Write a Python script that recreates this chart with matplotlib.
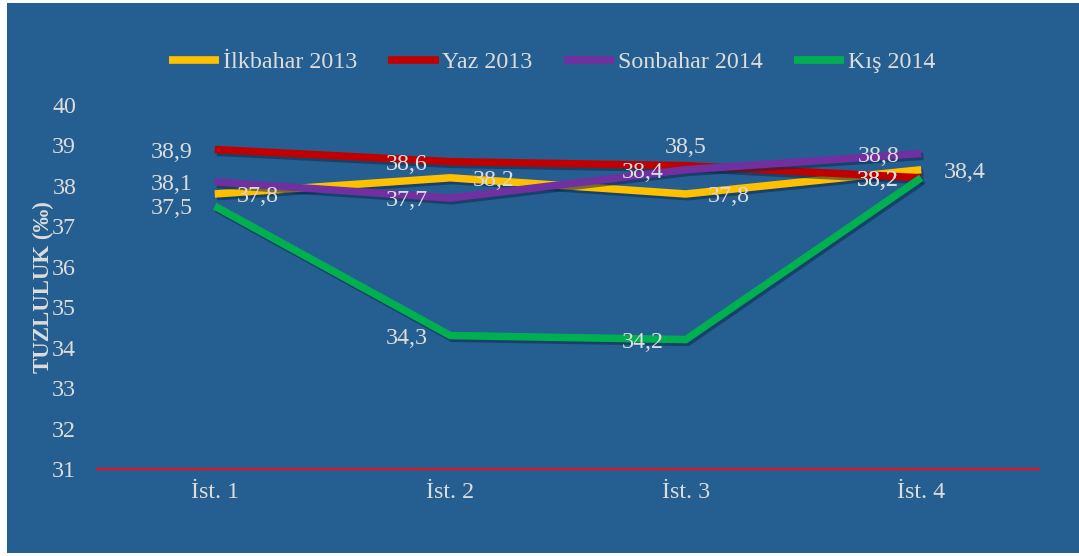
import matplotlib
matplotlib.use("Agg")
import matplotlib.pyplot as plt
import matplotlib.patheffects as pe
from matplotlib.patches import Rectangle

categories = ["İst. 1", "İst. 2", "İst. 3", "İst. 4"]
series_names = ["İlkbahar 2013", "Yaz 2013", "Sonbahar 2014", "Kış 2014"]
ilkbahar_2013 = [37.8, 38.2, 37.8, 38.4]
yaz_2013 = [38.9, 38.6, 38.5, 38.2]
sonbahar_2014 = [38.1, 37.7, 38.4, 38.8]
kis_2014 = [37.5, 34.3, 34.2, 38.2]
series_values = [ilkbahar_2013, yaz_2013, sonbahar_2014, kis_2014]
colors = ["#FFC000", "#C00000", "#7030A0", "#00B050"]
# label side for each point: 'l' left, 'r' right, 'a' above
label_sides = [
    ["r", "r", "r", "r"],
    ["l", "l", "a", "l"],
    ["l", "l", "l", "l"],
    ["l", "l", "l", "l"],
]
yticks = [31, 32, 33, 34, 35, 36, 37, 38, 39, 40]

W, H = 1079, 556
fig = plt.figure(figsize=(W / 100, H / 100), dpi=100, facecolor="white")
fig.patches.append(Rectangle((7 / W, 3 / H), 1, 550 / H, transform=fig.transFigure,
                             facecolor="#255F91", edgecolor="none", zorder=-10))

left, right = 97 / W, 1039 / W
bottom, top = 1 - 469 / H, 1 - 105 / H
ax = fig.add_axes([left, bottom, right - left, top - bottom])
ax.set_facecolor("none")

font = "Liberation Serif"
txtcol = "#DCDCDC"
fs = 17.3

x = list(range(len(categories)))
shadow = [pe.SimpleLineShadow(offset=(1.5, -2.0), shadow_color="#0B2A4A", alpha=0.55),
          pe.Normal()]
for name, vals, col in zip(series_names, series_values, colors):
    ax.plot(x, vals, color=col, lw=5.4, label=name, solid_capstyle="butt",
            solid_joinstyle="miter", path_effects=shadow, zorder=3)

for vals, sides in zip(series_values, label_sides):
    for xi, (v, s) in enumerate(zip(vals, sides)):
        txt = f"{v:.1f}".replace(".", ",")
        if s == "l":
            off, ha, va = (-16, -2), "right", "center"
        elif s == "r":
            off, ha, va = (16, -2), "left", "center"
        else:
            off, ha, va = (0, 13), "center", "center"
        ax.annotate(txt, (xi, v), xytext=off, textcoords="offset points",
                    ha=ha, va=va, fontsize=fs, family=font, color=txtcol, zorder=5)

ax.set_xlim(-0.5, len(categories) - 0.5)
ax.set_ylim(31, 40)
ax.set_yticks(yticks)
ax.set_yticklabels([str(t) for t in yticks])
ax.set_xticks(x)
ax.set_xticklabels(categories)
for lab in ax.get_xticklabels() + ax.get_yticklabels():
    lab.set_fontfamily(font)
    lab.set_fontsize(fs)
    lab.set_color(txtcol)
ax.tick_params(axis="both", length=0)
ax.tick_params(axis="y", pad=15)
ax.tick_params(axis="x", pad=9)

for sp in ["top", "right", "left"]:
    ax.spines[sp].set_visible(False)
ax.spines["bottom"].set_color("#E0141C")
ax.spines["bottom"].set_linewidth(1.6)

ax.set_ylabel("TUZLULUK (‰)", fontsize=16.5, family=font, fontweight="bold",
              color=txtcol, labelpad=2)
ax.yaxis.set_label_coords(-0.046, 0.5)

leg = ax.legend(loc="center", bbox_to_anchor=(552 / W, 1 - 62 / H), bbox_transform=fig.transFigure,
                ncol=4, frameon=False, handlelength=2.1, handletextpad=0.15,
                columnspacing=1.3, prop={"family": font, "size": fs})
for t in leg.get_texts():
    t.set_color(txtcol)
for h in leg.get_lines():
    h.set_linewidth(5.5)
    h.set_path_effects([])

fig.savefig("out.png", dpi=100, facecolor="white")
